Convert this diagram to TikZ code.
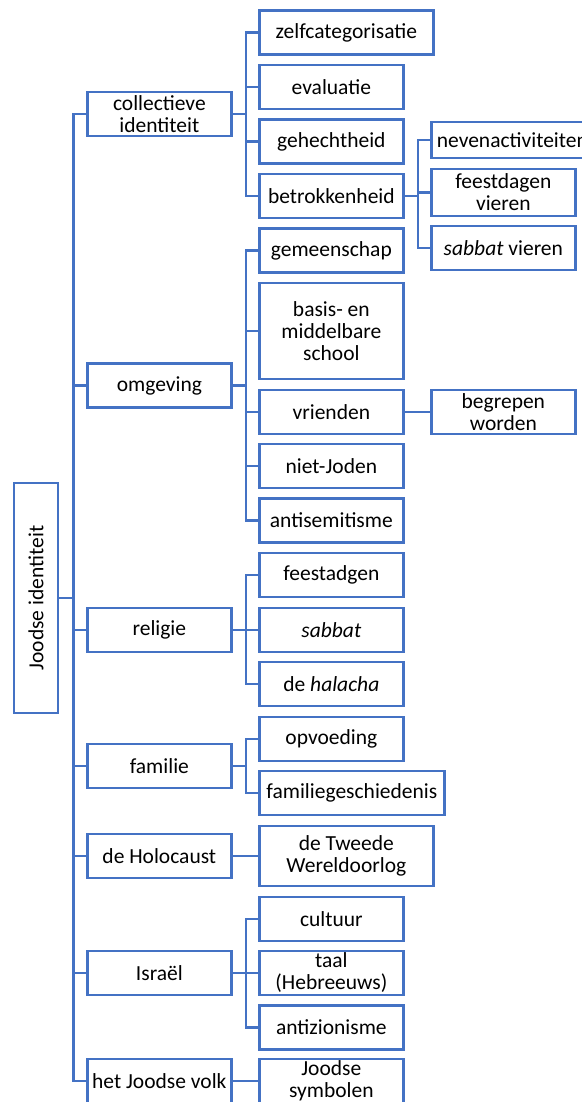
\documentclass[tikz,border=0pt]{standalone}
\usepackage{fontspec}
\setmainfont{Carlito}
\usetikzlibrary{positioning}
\definecolor{lijn}{HTML}{4472C4}

\begin{document}
\begin{tikzpicture}[
	x=1pt,y=-1pt,
	every node/.style={font=\fontsize{21.5}{22}\selectfont},
	vak/.style={draw=lijn, line width=2.7pt, minimum width=144pt, minimum height=44pt,
		inner sep=1pt, align=center, anchor=west},
	tak/.style={draw=lijn, line width=2.3pt}
	]
	\useasboundingbox (0,0) rectangle (581,1102);

	\node[vak, anchor=center, rotate=90, minimum width=230pt] (joods) at (36,598) {Joodse identiteit};

	\node[vak] (coll) at (86,114) {collectieve\\identiteit};
	\node[vak] (omg) at (86,385.5) {omgeving};
	\node[vak] (rel) at (86,630) {religie};
	\node[vak] (fam) at (86,766) {familie};
	\node[vak] (holo) at (86,856) {de Holocaust};
	\node[vak] (isr) at (86,973) {Israël};
	\node[vak] (volk) at (86,1081) {het Joodse volk};

	\node[vak, minimum width=174pt] (zelf) at (258,32.5) {zelfcategorisatie};
	\node[vak] (eval) at (258,87) {evaluatie};
	\node[vak] (geh) at (258,141.5) {gehechtheid};
	\node[vak] (betr) at (258,196) {betrokkenheid};
	\node[vak] (gem) at (258,250.5) {gemeenschap};
	\node[vak, minimum height=96pt] (school) at (258,331) {basis- en\\middelbare\\school};
	\node[vak] (vri) at (258,412) {vrienden};
	\node[vak] (niet) at (258,466) {niet-Joden};
	\node[vak] (anti) at (258,520.5) {antisemitisme};
	\node[vak] (feest) at (258,575) {feestadgen};
	\node[vak] (sab) at (258,630) {\itshape sabbat};
	\node[vak] (hal) at (258,684) {de \textit{halacha}};
	\node[vak] (opv) at (258,739) {opvoeding};
	\node[vak, minimum width=185pt] (gesch) at (258,793) {familiegeschiedenis};
	\node[vak, minimum width=174pt, minimum height=60pt] (oorlog) at (258,856) {de Tweede\\Wereldoorlog};
	\node[vak] (cult) at (258,919) {cultuur};
	\node[vak] (taal) at (258,973) {taal\\(Hebreeuws)};
	\node[vak] (zion) at (258,1027.5) {antizionisme};
	\node[vak] (symb) at (258,1081) {Joodse\\symbolen};

	\node[vak, minimum width=162pt, minimum height=36pt] (neven) at (430,140) {nevenactiviteiten};
	\node[vak, minimum height=47pt] (fdag) at (430,192.5) {feestdagen\\vieren};
	\node[vak] (sabv) at (430,248) {\textit{sabbat} vieren};
	\node[vak] (begr) at (430,412) {begrepen\\worden};

	\foreach \kind in {coll,omg,rel,fam,holo,isr,volk}
		\draw[tak] (joods.south) -- ++(14,0) |- (\kind.west);

	\foreach \ouder/\kind in {coll/zelf,coll/eval,coll/geh,coll/betr,
		omg/gem,omg/school,omg/vri,omg/niet,omg/anti,
		rel/feest,rel/sab,rel/hal,fam/opv,fam/gesch,holo/oorlog,
		isr/cult,isr/taal,isr/zion,volk/symb,
		betr/neven,betr/fdag,betr/sabv,vri/begr}
		\draw[tak] (\ouder.east) -- ++(13,0) |- (\kind.west);
\end{tikzpicture}
\end{document}
